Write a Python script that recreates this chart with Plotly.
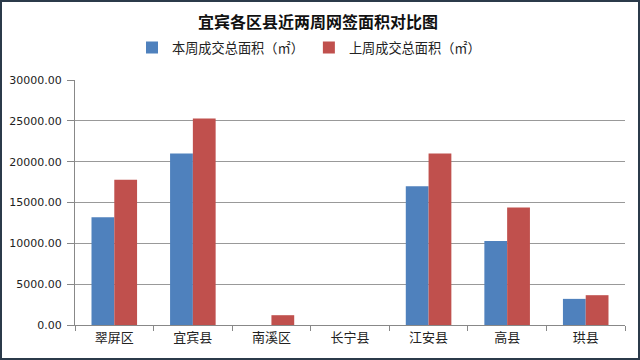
import plotly.graph_objects as go

categories = ["翠屏区", "宜宾县", "南溪区", "长宁县", "江安县", "高县", "珙县"]
this_week = [13200, 21000, 0, 0, 17000, 10300, 3200]
last_week = [17800, 25300, 1200, 0, 21000, 14400, 3650]
series_names = ["本周成交总面积（㎡）", "上周成交总面积（㎡）"]
y_ticks = [0, 5000, 10000, 15000, 20000, 25000, 30000]

font_family = "Noto Sans CJK SC, Microsoft YaHei, sans-serif"

fig = go.Figure()
fig.add_trace(go.Bar(x=categories, y=this_week, name=series_names[0],
                     marker=dict(color="#4F81BD", line=dict(width=0))))
fig.add_trace(go.Bar(x=categories, y=last_week, name=series_names[1],
                     marker=dict(color="#C0504D", line=dict(width=0))))

fig.update_layout(
    width=640, height=360,
    margin=dict(l=75, r=15, t=80, b=35, autoexpand=False),
    paper_bgcolor="white", plot_bgcolor="white",
    font=dict(family=font_family, color="#222", size=12),
    title=dict(text="<b>宜宾各区县近两周网签面积对比图</b>", x=318/640, xanchor="center",
               y=1 - 22/360, yanchor="middle", font=dict(size=16, color="#111")),
    barmode="group", bargap=0.42, bargroupgap=0,
    showlegend=True,
    legend=dict(orientation="h", x=(132 - 75)/550, xanchor="left", y=1 + 32/245, yanchor="middle",
                font=dict(size=13.2, color="#222"), itemwidth=30, traceorder="normal",
                itemsizing="constant"),
    xaxis=dict(showline=True, linecolor="#888", linewidth=1, automargin=False,
               ticks="outside", tickson="boundaries", ticklen=5, tickcolor="#888",
               tickfont=dict(size=13, color="#222"), showgrid=False),
    yaxis=dict(range=[0, 30000], tickvals=y_ticks, tickformat=".2f", automargin=False,
               showgrid=True, gridcolor="#999", gridwidth=1,
               showline=True, linecolor="#888", linewidth=1,
               ticks="outside", ticklen=7, tickcolor="#888", ticklabelstandoff=3,
               tickfont=dict(family="DejaVu Sans, Verdana, sans-serif", size=11, color="#222"),
               zeroline=False),
    shapes=[dict(type="rect", xref="paper", yref="paper", x0=-74/550, x1=1+14/550,
                 y0=-34/245, y1=1+79/245, line=dict(color="#2b3a4a", width=2),
                 layer="above")],
)

fig.write_html("out.html", config={"displayModeBar": False},
               post_script="document.body.style.margin='0';document.body.style.padding='0';")
